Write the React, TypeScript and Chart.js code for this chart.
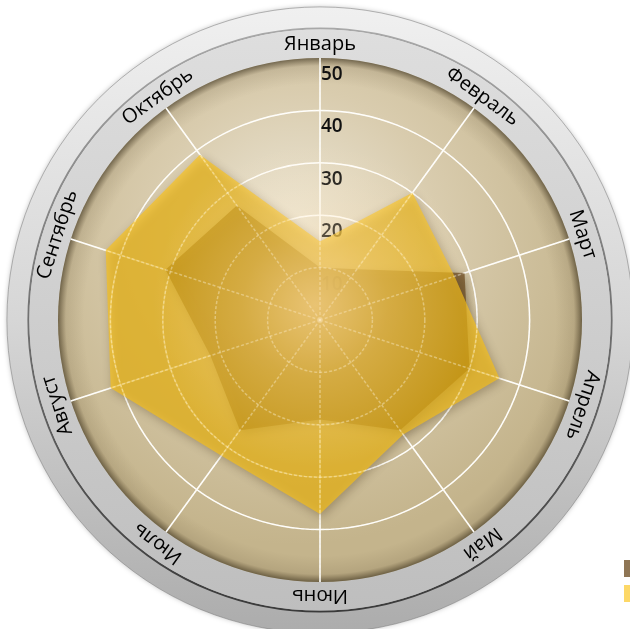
import React, { useEffect, useRef } from "react";
import { Chart, registerables } from "chart.js";

Chart.register(...registerables);

// ---- data ----
const months = ["Январь", "Февраль", "Март", "Апрель", "Май", "Июнь", "Июль", "Август", "Сентябрь", "Октябрь"];
const seriesNames = ["Серия 1", "Серия 2"];
const darkValues = [10, 12, 29, 30, 26, 19, 26, 22, 31, 27];
const yellowValues = [15, 30, 27, 36, 27, 37, 32, 42, 43, 39];
const tickValues = [10, 20, 30, 40, 50];
const axisMin = 0;
const axisMax = 50;
const axisStep = 10;

const darkColor = "rgba(105,72,28,0.75)";
const yellowColor = "rgba(252,194,17,0.64)";

const dialPlugin = {
  id: "dial",
  beforeDraw(chart: any) {
    const s = chart.scales.r;
    const ctx: CanvasRenderingContext2D = chart.ctx;
    const cx = s.xCenter, cy = s.yCenter, R = s.drawingArea;
    const TAU = Math.PI * 2;
    ctx.save();
    // outer bezel
    const rOut = R * 1.195;
    ctx.beginPath();
    ctx.arc(cx, cy, rOut, 0, TAU);
    let g = ctx.createLinearGradient(cx, cy - rOut, cx, cy + rOut);
    g.addColorStop(0, "#f0f0f0");
    g.addColorStop(0.5, "#d6d6d6");
    g.addColorStop(1, "#acacac");
    ctx.fillStyle = g;
    ctx.shadowColor = "rgba(0,0,0,0.25)";
    ctx.shadowBlur = 5;
    ctx.fill();
    ctx.shadowColor = "transparent";
    ctx.shadowBlur = 0;
    ctx.lineWidth = 1;
    ctx.strokeStyle = "rgba(120,120,120,0.5)";
    ctx.stroke();
    // dark separating ring
    const rLine = R * 1.113;
    ctx.beginPath();
    ctx.arc(cx, cy, rLine, 0, TAU);
    g = ctx.createLinearGradient(cx, cy - rLine, cx, cy + rLine);
    g.addColorStop(0, "#a8a8a8");
    g.addColorStop(1, "#3a3a3a");
    ctx.strokeStyle = g;
    ctx.lineWidth = 2;
    ctx.stroke();
    // label band
    ctx.beginPath();
    ctx.arc(cx, cy, rLine - 1, 0, TAU);
    g = ctx.createLinearGradient(cx, cy - rLine, cx, cy + rLine);
    g.addColorStop(0, "#dedede");
    g.addColorStop(1, "#bebebe");
    ctx.fillStyle = g;
    ctx.fill();
    // panel
    ctx.beginPath();
    ctx.arc(cx, cy, R, 0, TAU);
    const pg = ctx.createRadialGradient(cx - 25, cy - 90, 0, cx - 25, cy - 90, R * 1.2);
    pg.addColorStop(0, "#ece6d6");
    pg.addColorStop(0.45, "#d9ccae");
    pg.addColorStop(1, "#c4b48c");
    ctx.fillStyle = pg;
    ctx.fill();
    // inner shadow at panel edge
    const sg = ctx.createRadialGradient(cx, cy, R * 0.9, cx, cy, R);
    sg.addColorStop(0, "rgba(70,55,30,0)");
    sg.addColorStop(0.7, "rgba(70,55,30,0.12)");
    sg.addColorStop(1, "rgba(50,40,20,0.6)");
    ctx.fillStyle = sg;
    ctx.fill();
    ctx.restore();
  },
  beforeDatasetsDraw(chart: any) {
    const s = chart.scales.r;
    const ctx: CanvasRenderingContext2D = chart.ctx;
    const cx = s.xCenter, cy = s.yCenter;
    ctx.save();
    ctx.font = '600 19px "Open Sans"';
    ctx.fillStyle = "#111111";
    ctx.textAlign = "left";
    ctx.textBaseline = "alphabetic";
    tickValues.forEach((v) => {
      const d = s.getDistanceFromCenterForValue(v);
      ctx.fillText(String(v), cx + 1, cy - d + 22);
    });
    ctx.restore();
    ctx.save();
    ctx.shadowColor = "rgba(50,35,10,0.45)";
    ctx.shadowBlur = 10;
    ctx.shadowOffsetX = 2;
    ctx.shadowOffsetY = 3;
  },
  afterDatasetsDraw(chart: any) {
    const ctx: CanvasRenderingContext2D = chart.ctx;
    ctx.restore();
    const s = chart.scales.r;
    const cx = s.xCenter, cy = s.yCenter, R = s.drawingArea;
    ctx.save();
    ctx.beginPath();
    ctx.arc(cx, cy, R, 0, Math.PI * 2);
    ctx.clip();
    // faint grid seen through the fills
    ctx.strokeStyle = "rgba(255,250,235,0.38)";
    ctx.lineWidth = 1.5;
    ctx.setLineDash([3, 2]);
    tickValues.forEach((v) => {
      if (v >= axisMax) return;
      ctx.beginPath();
      ctx.arc(cx, cy, s.getDistanceFromCenterForValue(v), 0, Math.PI * 2);
      ctx.stroke();
    });
    months.forEach((_, i) => {
      const p = s.getPointPosition(i, R);
      ctx.beginPath();
      ctx.moveTo(cx, cy);
      ctx.lineTo(p.x, p.y);
      ctx.stroke();
    });
    ctx.setLineDash([]);
    // warm glow in the middle
    const gg = ctx.createRadialGradient(cx - 5, cy - 15, 0, cx - 5, cy - 15, R * 0.62);
    gg.addColorStop(0, "rgba(255,222,170,0.62)");
    gg.addColorStop(0.45, "rgba(255,225,175,0.28)");
    gg.addColorStop(1, "rgba(255,230,190,0)");
    ctx.fillStyle = gg;
    ctx.fillRect(cx - R, cy - R, 2 * R, 2 * R);
    ctx.restore();
    // point labels along the band
    ctx.save();
    ctx.font = '20px "Open Sans"';
    ctx.fillStyle = "#000000";
    ctx.textAlign = "center";
    ctx.textBaseline = "middle";
    const labels: string[] = chart.data.labels;
    labels.forEach((lab, i) => {
      const p = s.getPointPosition(i, R * 1.054);
      const a = s.getIndexAngle(i);
      ctx.save();
      ctx.translate(p.x, p.y);
      ctx.rotate(a);
      ctx.fillText(lab, 0, 0);
      ctx.restore();
    });
    ctx.restore();
  },
};

export default function App() {
  const ref = useRef<HTMLCanvasElement>(null);
  useEffect(() => {
    const chart = new Chart(ref.current as HTMLCanvasElement, {
      type: "radar",
      data: {
        labels: months,
        datasets: [
          {
            label: seriesNames[0],
            data: darkValues,
            backgroundColor: darkColor,
            borderColor: "rgba(0,0,0,0)",
            borderWidth: 0,
            pointRadius: 0,
            pointHoverRadius: 0,
            fill: true,
            order: 2,
          },
          {
            label: seriesNames[1],
            data: yellowValues,
            backgroundColor: yellowColor,
            borderColor: "rgba(0,0,0,0)",
            borderWidth: 0,
            pointRadius: 0,
            pointHoverRadius: 0,
            fill: true,
            order: 1,
          },
        ],
      },
      options: {
        responsive: false,
        animation: false,
        devicePixelRatio: 1,
        layout: { padding: { left: 24, right: 0, top: 0, bottom: 19 } },
        elements: { line: { tension: 0 } },
        scales: {
          r: {
            min: axisMin,
            max: axisMax,
            ticks: { display: false, stepSize: axisStep },
            pointLabels: { display: false },
            grid: {
              circular: true,
              color: (c: any) => (c.tick && c.tick.value >= axisMax ? "rgba(0,0,0,0)" : "#ffffff"),
              lineWidth: 1.5,
            },
            angleLines: { color: "#ffffff", lineWidth: 1.5 },
          },
        },
        plugins: {
          title: {
            display: true,
            text: " ",
            font: { size: 10, lineHeight: 1 },
            padding: { top: 48, bottom: 0 },
          },
          subtitle: {
            display: true,
            position: "bottom",
            text: " ",
            font: { size: 10, lineHeight: 1 },
            padding: { top: 18, bottom: 0 },
          },
          legend: {
            position: "right",
            align: "end",
            maxWidth: 80,
            labels: {
              boxWidth: 40,
              boxHeight: 17,
              padding: 8,
              font: { size: 12 },
              color: "#111",
              sort: (a: any, b: any) => a.datasetIndex - b.datasetIndex,
            },
          },
          tooltip: { enabled: false },
        },
      },
      plugins: [dialPlugin],
    } as any);
    return () => chart.destroy();
  }, []);
  return (
    <div
      style={{
        position: "fixed",
        left: 0,
        top: 0,
        width: 630,
        height: 629,
        overflow: "hidden",
        background: "#ffffff",
      }}
    >
      <canvas ref={ref} width={696} height={629} style={{ display: "block", width: 696, height: 629 }} />
    </div>
  );
}
